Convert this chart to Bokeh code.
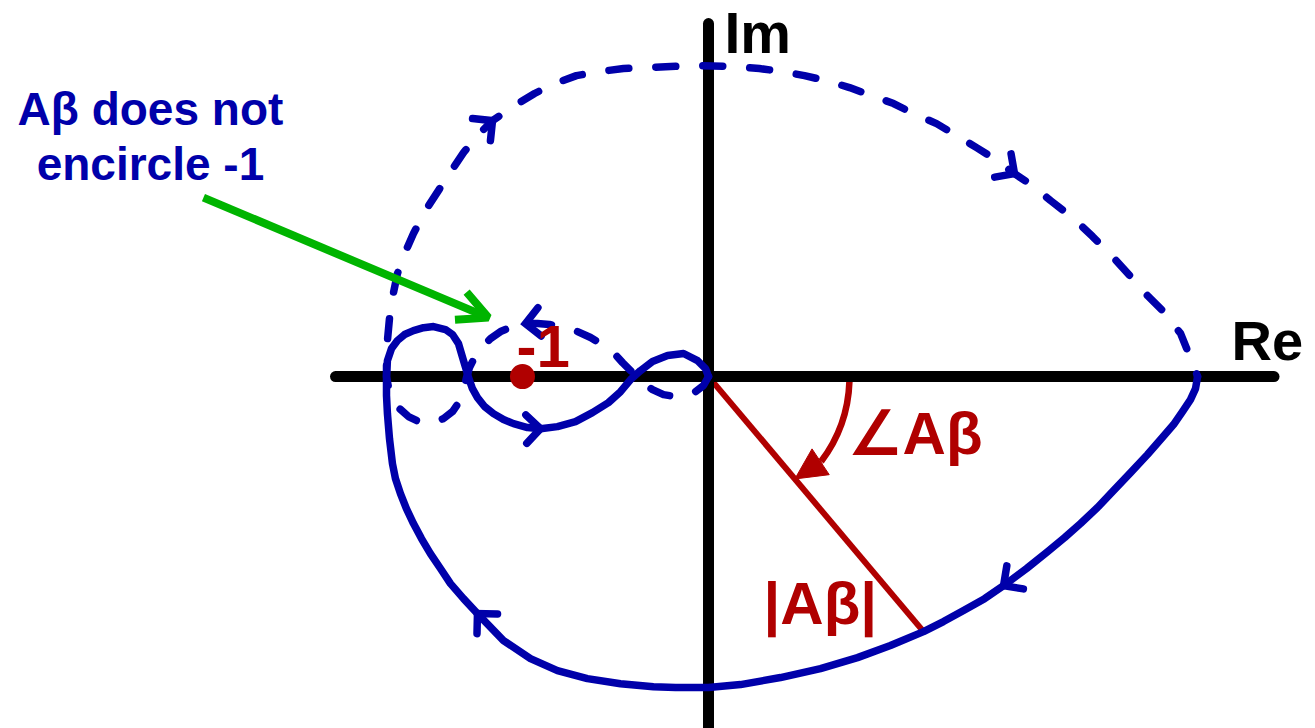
import numpy as np
from bokeh.plotting import figure
from bokeh.models import Range1d, Arrow, OpenHead, NormalHead
from bokeh.core.properties import value
from bokeh.embed import file_html
from bokeh.resources import INLINE

# Nyquist contour of the loop gain A(jw)*beta, in units where the critical point is -1.
# Solid branch: w from 0 to +inf (ends at the origin).
solid_re = [2.629, 2.618, 2.591, 2.548, 2.500, 2.435, 2.360, 2.269, 2.177, 2.091,
            2.000, 1.914, 1.823, 1.710, 1.586, 1.484, 1.371, 1.263, 1.156, 0.978,
            0.801, 0.602, 0.387, 0.172, 0.000, -0.177, -0.296, -0.473, -0.651, -0.812,
            -0.957, -1.102, -1.242, -1.317, -1.387, -1.441, -1.495, -1.543, -1.586, -1.624,
            -1.656, -1.683, -1.699, -1.715, -1.726, -1.731, -1.731, -1.726, -1.704, -1.672,
            -1.634, -1.586, -1.532, -1.478, -1.414, -1.376, -1.344, -1.317, -1.290, -1.269,
            -1.242, -1.204, -1.156, -1.102, -1.048, -0.973, -0.903, -0.812, -0.715, -0.624,
            -0.538, -0.473, -0.419, -0.366, -0.301, -0.220, -0.134, -0.059, -0.016, 0.000]
solid_im = [0.000, -0.065, -0.124, -0.188, -0.258, -0.333, -0.419, -0.516, -0.613, -0.704,
            -0.790, -0.866, -0.941, -1.032, -1.124, -1.194, -1.258, -1.317, -1.371, -1.446,
            -1.511, -1.570, -1.618, -1.656, -1.672, -1.672, -1.667, -1.651, -1.624, -1.581,
            -1.516, -1.419, -1.274, -1.194, -1.113, -1.032, -0.952, -0.871, -0.790, -0.710,
            -0.629, -0.548, -0.468, -0.333, -0.199, -0.102, 0.000, 0.086, 0.151, 0.194,
            0.226, 0.247, 0.263, 0.269, 0.253, 0.226, 0.177, 0.086, -0.005, -0.065,
            -0.113, -0.161, -0.199, -0.231, -0.253, -0.274, -0.280, -0.269, -0.242, -0.194,
            -0.140, -0.081, -0.016, 0.032, 0.081, 0.113, 0.124, 0.086, 0.043, 0.000]

# Dashed branch: w from -inf (origin) to 0.
dashed_re = [0.000, -0.027, -0.070, -0.113, -0.177, -0.242, -0.301, -0.349, -0.387, -0.419,
             -0.462, -0.511, -0.570, -0.634, -0.704, -0.780, -0.855, -0.919, -0.984, -1.054,
             -1.118, -1.172, -1.220, -1.258, -1.285, -1.301, -1.317, -1.339, -1.376, -1.425,
             -1.484, -1.548, -1.613, -1.661, -1.699, -1.720, -1.731, -1.731, -1.726, -1.715,
             -1.699, -1.672, -1.634, -1.586, -1.522, -1.452, -1.382, -1.317, -1.242, -1.161,
             -1.043, -0.935, -0.828, -0.710, -0.586, -0.457, -0.349, -0.204, -0.038, 0.156,
             0.274, 0.398, 0.516, 0.634, 0.758, 0.876, 0.995, 1.102, 1.226, 1.333,
             1.441, 1.543, 1.645, 1.742, 1.839, 1.957, 2.065, 2.172, 2.269, 2.360,
             2.457, 2.538, 2.581, 2.608, 2.629]
dashed_im = [0.000, -0.048, -0.081, -0.097, -0.108, -0.097, -0.070, -0.038, 0.000, 0.032,
             0.075, 0.129, 0.172, 0.210, 0.242, 0.263, 0.280, 0.285, 0.285, 0.269,
             0.242, 0.204, 0.156, 0.102, 0.048, -0.005, -0.075, -0.134, -0.188, -0.226,
             -0.247, -0.247, -0.215, -0.172, -0.118, -0.059, 0.000, 0.086, 0.194, 0.312,
             0.425, 0.554, 0.661, 0.769, 0.892, 1.000, 1.108, 1.204, 1.296, 1.376,
             1.457, 1.522, 1.575, 1.618, 1.640, 1.656, 1.661, 1.667, 1.672, 1.667,
             1.656, 1.640, 1.618, 1.591, 1.554, 1.511, 1.468, 1.414, 1.360, 1.296,
             1.231, 1.167, 1.091, 1.027, 0.946, 0.855, 0.753, 0.645, 0.538, 0.435,
             0.339, 0.231, 0.124, 0.059, 0.000]

# Points of the contour that carry a direction arrow
solid_arrow_idx = [14, 32, 66]
dashed_arrow_idx = [18, 49, 72]

# Critical point and the sample used to illustrate |Ab| and its angle
critical_re = [-1.0]
critical_im = [0.0]
vector_idx = 18

# Drawing extent of the Re / Im axes
re_axis = [-2.005, 3.040]
im_axis = [-2.0, 1.898]

BLUE = "#0000AA"
RED = "#B00000"
GREEN = "#00B400"
BLACK = "#000000"
FONT = value("Liberation Sans")
PX = 1.0 / 186.0  # one screen pixel in plot units

p = figure(width=1315, height=728,
           x_range=Range1d(-3.806, 3.263), y_range=Range1d(-1.892, 2.022),
           x_axis_type=None, y_axis_type=None,
           output_backend="svg", toolbar_location=None, min_border=0)
p.grid.visible = False
p.outline_line_color = None
p.background_fill_color = "white"
p.border_fill_color = "white"

# |Ab| vector from the origin to one point of the contour
vx, vy = solid_re[vector_idx], solid_im[vector_idx]
p.line([0, vx], [0, vy], line_color=RED, line_width=6)

# angle arc with a filled head that lands on the vector
arc_r = 0.758
arc_end = -0.646
theta = np.arctan2(vy, vx)
p.arc(x=[0], y=[0], radius=arc_r, start_angle=-0.035, end_angle=arc_end,
      direction="clock", line_color=RED, line_width=6.5)
tip_r = 0.72
p.add_layout(Arrow(end=NormalHead(fill_color=RED, line_color=RED, line_width=1, size=31),
                   x_start=arc_r * np.cos(arc_end), y_start=arc_r * np.sin(arc_end),
                   x_end=tip_r * np.cos(theta), y_end=tip_r * np.sin(theta),
                   line_color=RED, line_width=6))

# Re and Im axes
p.segment(x0=[re_axis[0], 0], y0=[0, im_axis[0]], x1=[re_axis[1], 0], y1=[0, im_axis[1]],
          line_color=BLACK, line_width=11, line_cap="round")

# contour branches
p.line(solid_re, solid_im, line_color=BLUE, line_width=7.5, line_join="round", line_cap="round")
p.line(dashed_re, dashed_im, line_color=BLUE, line_width=7.5, line_join="round",
       line_cap="round", line_dash="20 27")


def chevrons(xs, ys, idxs, length=0.108, half=np.pi / 4):
    cx, cy = [], []
    for i in idxs:
        a = np.arctan2(ys[i + 1] - ys[i - 1], xs[i + 1] - xs[i - 1]) + np.pi
        cx.append([xs[i] + length * np.cos(a + half), xs[i], xs[i] + length * np.cos(a - half)])
        cy.append([ys[i] + length * np.sin(a + half), ys[i], ys[i] + length * np.sin(a - half)])
    return cx, cy


for xs, ys, idxs in [(solid_re, solid_im, solid_arrow_idx), (dashed_re, dashed_im, dashed_arrow_idx)]:
    cx, cy = chevrons(xs, ys, idxs)
    p.multi_line(cx, cy, line_color=BLUE, line_width=7.5, line_cap="round", line_join="miter")

# critical point
p.scatter(critical_re, critical_im, size=25, fill_color=RED, line_color=None)


# labels; y is the wanted baseline, lifted to offset the svg text placement
def label(x, y, txt, color, size, align="left"):
    lift = 0.4 * size * PX
    p.text(x=[x], y=[y + lift], text=[txt], text_color=color, text_font=FONT,
           text_font_style="bold", text_font_size=f"{size}px", text_align=align,
           text_baseline="alphabetic")


label(0.086, 1.725, "Im", BLACK, 57)
label(2.812, 0.075, "Re", BLACK, 56)
label(-1.032, 0.032, "-1", RED, 60)
label(0.753, -0.435, "∠Aβ", RED, 60)
label(0.296, -1.349, "|Aβ|", RED, 60)
label(-3.0, 1.339, "Aβ does not", BLUE, 46, "center")
label(-3.0, 1.043, "encircle -1", BLUE, 46, "center")

# pointer from the note to the region left of -1
p.add_layout(Arrow(end=OpenHead(line_color=GREEN, line_width=8, size=30),
                   x_start=-2.715, y_start=0.962, x_end=-1.183, y_end=0.317,
                   line_color=GREEN, line_width=8))

open("out.html", "w").write(file_html(p, INLINE))
